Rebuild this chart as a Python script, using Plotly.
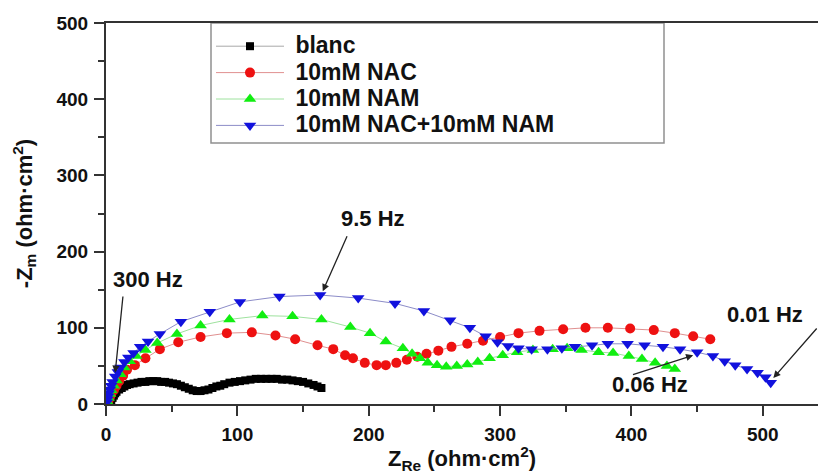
import plotly.graph_objects as go

# ---- data ----
blanc_x = [3, 4, 5, 6, 7, 8, 10, 12, 14, 16, 18, 21, 24, 27, 30, 33, 36, 39, 42, 45, 48, 51,
           54, 57, 60, 63, 66, 69, 72, 75, 78, 81, 84, 87, 90, 94, 98, 102, 106, 110, 114,
           118, 122, 126, 130, 134, 138, 142, 146, 150, 154, 158, 161, 164]
blanc_y = [1, 4, 8, 11, 14, 16, 19, 21, 23, 25, 26, 27, 28, 29, 29, 30, 30, 30, 29, 29, 28, 27,
           26, 24, 22, 20, 18, 17, 17, 18, 19, 21, 23, 24, 26, 28, 29, 30, 31, 32, 33,
           33, 33, 33, 33, 32, 32, 31, 30, 29, 27, 25, 23, 21]

nac_x = [1, 2, 3, 4, 6, 8, 10, 13, 16, 22, 30, 41, 55, 72, 92, 111, 129, 144, 161, 173, 182,
         188, 197, 206, 213, 221, 229, 237, 244, 253, 263, 275, 287, 300, 314, 330, 348, 365,
         382, 399, 417, 433, 447, 460]
nac_y = [2, 5, 9, 13, 18, 24, 30, 37, 45, 51, 60, 72, 81, 88, 93, 94, 90, 85, 77, 72, 64,
         60, 54, 51, 51, 54, 58, 62, 66, 70, 75, 79, 83, 88, 93, 96, 98, 100,
         100, 99, 97, 93, 89, 85]

nam_x = [1, 2, 3, 4, 6, 8, 11, 14, 18, 23, 30, 39, 54, 72, 94, 119, 142, 164, 186, 201, 213,
         226, 233, 239, 245, 252, 259, 267, 275, 283, 292, 302, 313, 325, 340, 351, 362, 375,
         386, 398, 408, 418, 427, 433]
nam_y = [3, 8, 13, 18, 24, 31, 39, 48, 56, 63, 71, 80, 92, 103, 111, 116, 115, 111, 101, 93, 82,
         73, 66, 60, 54, 51, 49, 50, 52, 55, 60, 64, 68, 71, 72, 73, 71, 68,
         67, 63, 59, 54, 50, 46]

mix_x = [0.5, 1, 1.5, 2, 3, 4, 5, 7, 9, 11, 14, 17, 21, 26, 32, 41, 57, 79, 102, 132, 163, 192,
         220, 242, 262, 277, 289, 298, 306, 314, 324, 336, 347, 357, 370, 382, 397, 410, 424,
         437, 450, 462, 471, 479, 488, 496, 502, 506]
mix_y = [2, 6, 10, 14, 19, 24, 29, 36, 42, 48, 55, 61, 67, 75, 82, 92, 108, 121, 134, 141, 143, 139,
         132, 122, 110, 100, 89, 81, 76, 73, 72, 72, 73, 75, 77, 79, 79, 77, 75,
         72, 68, 63, 56, 51, 46, 41, 35, 28]

series_names = ["blanc", "10mM NAC", "10mM NAM", "10mM NAC+10mM NAM"]

x_ticks = [0, 100, 200, 300, 400, 500]
y_ticks = [0, 100, 200, 300, 400, 500]

FONT = "Liberation Sans, Arial, sans-serif"

fig = go.Figure()

styles = [
    (blanc_x, blanc_y, "#a8a8a8", "square", "#000000", 8),
    (nac_x, nac_y, "#e09090", "circle", "#ee1111", 10),
    (nam_x, nam_y, "#9ee29e", "triangle-up", "#11ee11", 11),
    (mix_x, mix_y, "#8c8cc8", "triangle-down", "#1111dd", 11),
]
for name, (xs, ys, lc, sym, mc, ms) in zip(series_names, styles):
    fig.add_trace(go.Scatter(
        x=xs, y=ys, mode="lines+markers",
        name='<span style="font-size:23px"> ' + name + '</span>',
        line=dict(color=lc, width=1),
        marker=dict(symbol=sym, color=mc, size=ms, line=dict(width=0)),
    ))

# frequency annotations
ann_font = dict(family=FONT, size=22, color="#111111", weight="bold")
labels = [
    ("300 Hz", 32, 164, 13, 143, 7, 41),
    ("9.5 Hz", 203, 244, 184, 222, 165, 148),
    ("0.06 Hz", 414, 25, 400, 38, 447, 64),
    ("0.01 Hz", 502, 117, 542, 101, 508, 34),
]
for txt, tx, ty, ax, ay, hx, hy in labels:
    fig.add_annotation(x=tx, y=ty, text=txt, showarrow=False, font=ann_font,
                       xref="x", yref="y")
    fig.add_annotation(x=hx, y=hy, ax=ax, ay=ay, axref="x", ayref="y", xref="x", yref="y",
                       text="", showarrow=True, arrowhead=2, arrowsize=1.1,
                       arrowwidth=1.3, arrowcolor="#222222")

axis_common = dict(
    showline=True, linecolor="#333333", linewidth=2,
    ticks="outside", ticklen=10, tickwidth=2, tickcolor="#333333",
    showgrid=False, zeroline=False,
    tickfont=dict(family=FONT, size=19, color="#111111", weight="bold"),
    minor=dict(ticks="outside", ticklen=6, tickwidth=2, tickcolor="#333333", dtick=50, showgrid=False),
)

fig.update_xaxes(
    range=[0, 542], tickvals=x_ticks, ticktext=[str(v) for v in x_ticks],
    mirror=True, ticklabelstandoff=2,
    title=dict(text="<b>Z<sub>Re</sub> (ohm·cm<sup>2</sup>)</b>",
               font=dict(family=FONT, size=22, color="#111111"), standoff=8),
    **axis_common,
)
fig.update_yaxes(
    range=[0, 500], tickvals=y_ticks, ticktext=[str(v) for v in y_ticks],
    ticklabelstandoff=2,
    title=dict(text="<b>-Z<sub>m</sub> (ohm·cm<sup>2</sup>)</b>",
               font=dict(family=FONT, size=22, color="#111111"), standoff=18),
    **axis_common,
)

# legend frame (wider than its entries, as in the reference)
PW, PH = 712, 381
fig.add_shape(type="rect", xref="paper", yref="paper",
              x0=(211 - 106) / PW, x1=(664 - 106) / PW,
              y0=(404 - 143) / PH, y1=1,
              fillcolor="white", line=dict(color="#909090", width=1.5), layer="below")

fig.update_layout(
    width=818, height=474,
    margin=dict(l=106, r=0, t=23, b=70),
    paper_bgcolor="white", plot_bgcolor="white",
    legend=dict(
        x=(211 - 106) / PW, y=1 - 5 / PH, xanchor="left", yanchor="top",
        bgcolor="rgba(0,0,0,0)", borderwidth=0,
        font=dict(family=FONT, size=18, color="#111111", weight="bold"),
        itemwidth=68, tracegroupgap=0,
    ),
    showlegend=True,
)

fig.write_html("out.html")
